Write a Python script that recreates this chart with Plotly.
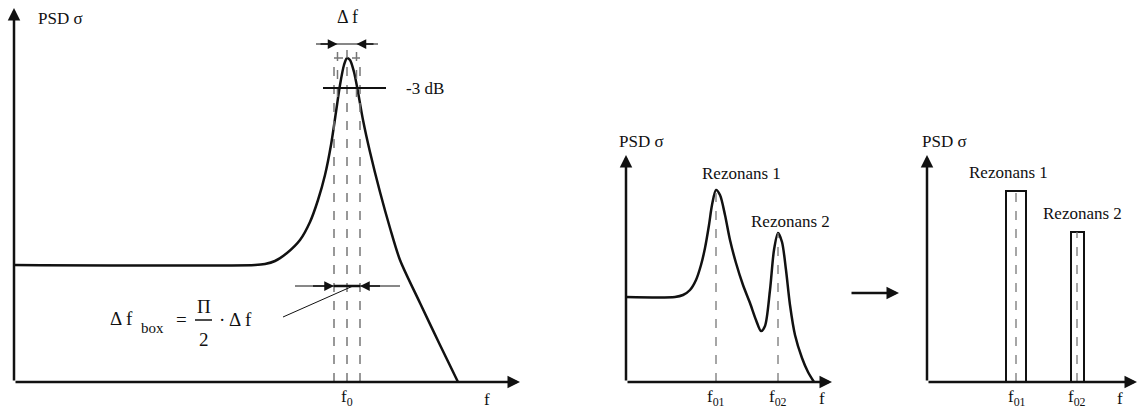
import plotly.graph_objects as go

# ---------------- data ----------------
# Left chart: single resonance (x: frequency units, y: PSD units)
left_f = [0, 4.82, 5.02, 5.22, 5.46, 5.72, 5.92, 6.08, 6.22, 6.34, 6.44, 6.52, 6.60, 6.66,
          6.72, 6.80, 6.88, 6.98, 7.12, 7.32, 7.52, 7.72, 8.12, 8.52, 8.88]
left_psd = [2.34, 2.34, 2.36, 2.42, 2.58, 2.84, 3.2, 3.64, 4.14, 4.74, 5.40, 5.94, 6.34, 6.48,
            6.44, 6.20, 5.80, 5.24, 4.60, 3.80, 3.08, 2.44, 1.58, 0.74, 0.0]
f0 = 6.66
half_df = 0.19          # half of Δf (-3 dB width)
half_dfbox = 0.26       # half of Δf_box
level_3db = 5.88
left_xmax, left_ymax = 10.12, 7.48

# Middle chart: two resonances
mid_f = [0, 2.45, 2.85, 3.2, 3.5, 3.75, 3.95, 4.15, 4.3, 4.5, 4.7, 4.95, 5.2, 5.5, 5.85, 6.2,
         6.5, 6.75, 6.95, 7.2, 7.4, 7.6, 7.8, 8.0, 8.2, 8.45, 8.8, 9.1, 9.4]
mid_psd = [4.25, 4.25, 4.35, 4.6, 5.1, 5.85, 6.7, 7.85, 8.85, 9.6, 9.35, 8.35, 7.1, 5.95, 4.85,
           3.95, 3.1, 2.55, 2.8, 4.6, 6.6, 7.45, 7.0, 5.6, 3.85, 2.35, 1.2, 0.5, 0.0]
f01, f02 = 4.5, 7.6
peak1, peak2 = 9.6, 7.45
mid_xmax, mid_ymax = 10.3, 11.35

# Right chart: equivalent boxes
box_f = [4.45, 7.5]
box_h = [9.55, 7.5]
box_w = [1.0, 0.65]
box_labels = ["Rezonans 1", "Rezonans 2"]
right_xmax, right_ymax = 10.5, 11.35

FONT = "Liberation Serif, Times New Roman, serif"
BLACK = "#111111"
GREY = "#777777"

fig = go.Figure()

fig.add_trace(go.Scatter(x=left_f, y=left_psd, mode="lines", xaxis="x", yaxis="y",
                         line=dict(color=BLACK, width=2.5, shape="spline", smoothing=0.8),
                         hoverinfo="skip", showlegend=False))
fig.add_trace(go.Scatter(x=mid_f, y=mid_psd, mode="lines", xaxis="x2", yaxis="y2",
                         line=dict(color=BLACK, width=2.5, shape="spline", smoothing=0.8),
                         hoverinfo="skip", showlegend=False))
fig.add_trace(go.Bar(x=box_f, y=box_h, width=box_w, xaxis="x3", yaxis="y3",
                     marker=dict(color="white", line=dict(color=BLACK, width=2)),
                     hoverinfo="skip", showlegend=False))

W, H = 1138, 410
ax_common = dict(visible=False, fixedrange=True)
fig.update_layout(
    width=W, height=H, margin=dict(l=0, r=0, t=0, b=0),
    paper_bgcolor="white", plot_bgcolor="white",
    xaxis=dict(domain=[14 / W, 530 / W], range=[0, (530 - 14) / 50], **ax_common),
    yaxis=dict(domain=[0, 1], range=[(382 - 410) / 50, 382 / 50], **ax_common),
    xaxis2=dict(domain=[600 / W, 840 / W], range=[(600 - 626) / 20, (840 - 626) / 20], **ax_common),
    yaxis2=dict(domain=[0, 1], range=[(382 - 410) / 20, 382 / 20], **ax_common),
    xaxis3=dict(domain=[900 / W, 1], range=[(900 - 927) / 20, (1138 - 927) / 20], **ax_common),
    yaxis3=dict(domain=[0, 1], range=[(382 - 410) / 20, 382 / 20], **ax_common),
    bargap=0,
)

shapes = []
anns = []


def arrow(xr, yr, x0, y0, x1, y1, width=2.5, size=1.0, head=2):
    anns.append(dict(xref=xr, yref=yr, axref=xr, ayref=yr, x=x1, y=y1, ax=x0, ay=y0,
                     text="", showarrow=True, arrowhead=head, arrowsize=size,
                     arrowwidth=width, arrowcolor=BLACK, standoff=0, startstandoff=0))


def line(xr, yr, x0, y0, x1, y1, color=BLACK, width=2.5, dash="solid"):
    shapes.append(dict(type="line", xref=xr, yref=yr, x0=x0, y0=y0, x1=x1, y1=y1,
                       line=dict(color=color, width=width, dash=dash)))


def text(xr, yr, x, y, s, size=17, xanchor="center", yanchor="middle"):
    anns.append(dict(xref=xr, yref=yr, x=x, y=y, text=s, showarrow=False,
                     xanchor=xanchor, yanchor=yanchor,
                     font=dict(family=FONT, size=size, color=BLACK)))


# ---- axes with arrows ----
for xr, yr, xm, ym in [("x", "y", left_xmax, left_ymax), ("x2", "y2", mid_xmax, mid_ymax),
                       ("x3", "y3", right_xmax, right_ymax)]:
    arrow(xr, yr, 0, 0, xm, 0, width=2.5, size=1.0)
    arrow(xr, yr, 0, 0, 0, ym, width=2.5, size=1.0)

# ---- left chart decorations ----
line("x", "y", f0, 0, f0, 6.64, GREY, 1.5, "dash")
line("x", "y", f0 - half_dfbox, 0, f0 - half_dfbox, 6.48, GREY, 1.5, "dash")
line("x", "y", f0 + half_dfbox, 0, f0 + half_dfbox, 6.48, GREY, 1.5, "dash")
line("x", "y", f0 - half_dfbox, 6.48, f0 + half_dfbox, 6.48, GREY, 1.5, "dash")
line("x", "y", f0 - half_df, 5.7, f0 - half_df, 6.68, GREY, 1.5, "dash")
line("x", "y", f0 + half_df, 5.7, f0 + half_df, 6.68, GREY, 1.5, "dash")
# -3 dB line
line("x", "y", 6.18, level_3db, 7.44, level_3db, BLACK, 2)
text("x", "y", 7.8, level_3db, "-3 dB", 17, "left")
# top Δf arrow
y_top = 6.76
line("x", "y", 6.04, y_top, 7.28, y_top, BLACK, 1.2)
arrow("x", "y", 6.10, y_top, f0 - half_df, y_top, width=1.5, size=1.3)
arrow("x", "y", 7.22, y_top, f0 + half_df, y_top, width=1.5, size=1.3)
text("x", "y", f0, 7.3, "Δ f", 18)
# lower Δf_box arrow
y_low = 1.92
line("x", "y", 5.62, y_low, 7.72, y_low, BLACK, 1.0)
line("x", "y", f0 - half_dfbox, y_low, f0 + half_dfbox, y_low, BLACK, 2.5)
arrow("x", "y", 5.95, y_low, f0 - half_dfbox, y_low, width=1.5, size=1.3)
arrow("x", "y", 7.35, y_low, f0 + half_dfbox, y_low, width=1.5, size=1.3)
line("x", "y", 5.38, 1.30, 6.78, 1.92, BLACK, 1.0)
# formula  Δ f_box = Π/2 · Δ f
text("x", "y", 1.88, 1.28, "Δ f", 19, "left")
text("x", "y", 2.5, 1.08, "box", 15, "left")
text("x", "y", 3.2, 1.26, "=", 19, "left")
text("x", "y", 3.79, 1.52, "Π", 19)
line("x", "y", 3.62, 1.24, 3.96, 1.24, BLACK, 1.5)
text("x", "y", 3.79, 0.86, "2", 19)
text("x", "y", 4.05, 1.26, "· Δ f", 19, "left")
# labels
text("x", "y", 0.44, 7.28, "PSD σ", 17, "left")
text("x", "y", f0, -0.32, "f<sub>0</sub>", 17)
text("x", "y", 9.46, -0.34, "f", 17)

# ---- middle chart ----
line("x2", "y2", f01, 0, f01, peak1, GREY, 1.3, "dash")
line("x2", "y2", f02, 0, f02, peak2, GREY, 1.3, "dash")
text("x2", "y2", -0.45, 12.05, "PSD σ", 17, "left")
text("x2", "y2", 5.75, 10.45, "Rezonans 1", 17)
text("x2", "y2", 8.2, 8.05, "Rezonans 2", 17)
text("x2", "y2", f01, -0.8, "f<sub>01</sub>", 17)
text("x2", "y2", f02, -0.8, "f<sub>02</sub>", 17)
text("x2", "y2", 9.8, -0.8, "f", 17)

# ---- right chart ----
for bf, bh in zip(box_f, box_h):
    line("x3", "y3", bf, 0, bf, bh, GREY, 1.3, "dash")
text("x3", "y3", -0.35, 12.05, "PSD σ", 17, "left")
text("x3", "y3", box_f[0] - 0.4, 10.5, box_labels[0], 17)
text("x3", "y3", box_f[1] + 0.25, 8.45, box_labels[1], 17)
text("x3", "y3", box_f[0] + 0.05, -0.8, "f<sub>01</sub>", 17)
text("x3", "y3", box_f[1], -0.8, "f<sub>02</sub>", 17)
text("x3", "y3", 9.65, -0.8, "f", 17)

# ---- arrow between middle and right charts ----
anns.append(dict(xref="paper", yref="paper", x=899 / W, y=1 - 293 / H, ax=-49, ay=0,
                 axref="pixel", ayref="pixel", text="", showarrow=True, arrowhead=2,
                 arrowsize=1.0, arrowwidth=2.5, arrowcolor=BLACK, standoff=0))

fig.update_layout(shapes=shapes, annotations=anns)
fig.write_html("out.html", config={"displayModeBar": False},
               post_script="document.body.style.margin='0';document.body.style.padding='0';")
